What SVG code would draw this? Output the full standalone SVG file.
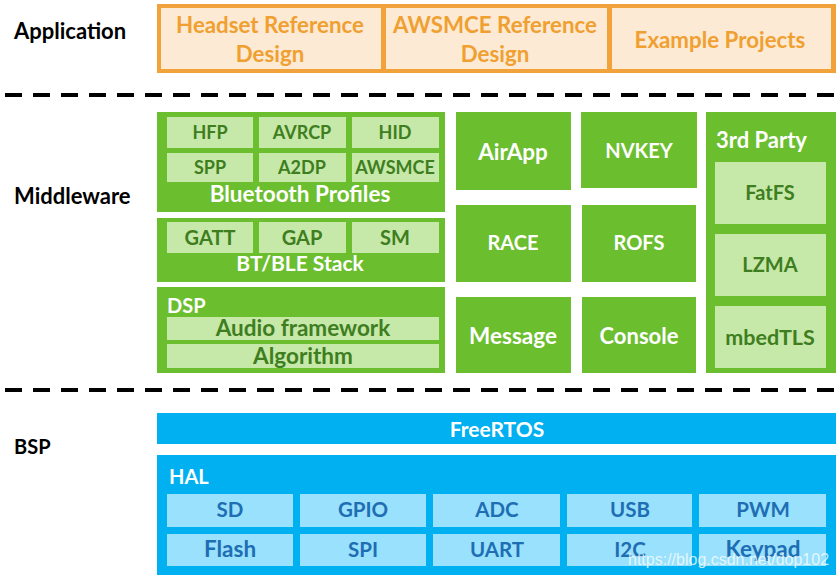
<svg xmlns="http://www.w3.org/2000/svg" width="836" height="578" viewBox="0 0 836 578">
<style>
text{font-family:Lato,"Open Sans","Liberation Sans",sans-serif;font-weight:bold;text-anchor:middle}
.lbl{fill:#000;font-size:22px;text-anchor:start}
.ao{fill:#F2A23A}
.ac{fill:#FDEAD4}
.at{fill:#F0A030;font-size:22.3px}
.g{fill:#6BBE2E}
.lg{fill:#C6E8A8}
.gt{fill:#3E7E1F;font-size:18px}
.gtl{fill:#3E7E1F;font-size:20px}
.wt{fill:#fff;font-size:20px}
.b{fill:#00B0F0}
.lb{fill:#99E1FC}
.bt{fill:#1E6EB4;font-size:20.5px}
.big{font-size:22.5px}
.dash{stroke:#000;stroke-width:4;stroke-dasharray:17 11;fill:none}
</style>
<rect width="836" height="578" fill="#fff"/>
<g id="labels">
<text class="lbl" x="14" y="39">Application</text>
<text class="lbl" x="14" y="204">Middleware</text>
<text class="lbl" x="14" y="454" style="font-size:20px">BSP</text>
</g>
<g id="separators">
<line class="dash" x1="5" y1="95" x2="836" y2="95"/>
<line class="dash" x1="5" y1="390" x2="836" y2="390"/>
</g>
<g id="application">
<rect class="ao" x="157" y="4" width="679" height="69"/>
<g id="headset"><rect class="ac" x="161" y="8" width="220" height="61"/><text class="at" x="270" y="33">Headset Reference</text><text class="at" x="270" y="62">Design</text></g>
<g id="awsmce-ref"><rect class="ac" x="386" y="8" width="221" height="61"/><text class="at" x="495" y="33">AWSMCE Reference</text><text class="at" x="495" y="62">Design</text></g>
<g id="examples"><rect class="ac" x="612" y="8" width="219" height="61"/><text class="at" x="720" y="48">Example Projects</text></g>
</g>
<g id="bt-profiles">
<rect class="g" x="157" y="112" width="288" height="100"/>
<rect class="lg" x="167" y="117" width="86" height="31"/><text class="gt" x="210" y="139">HFP</text>
<rect class="lg" x="259" y="117" width="87" height="31"/><text class="gt" x="302" y="139">AVRCP</text>
<rect class="lg" x="352" y="117" width="87" height="31"/><text class="gt" x="395" y="139">HID</text>
<rect class="lg" x="167" y="153" width="86" height="29"/><text class="gt" x="210" y="174">SPP</text>
<rect class="lg" x="259" y="153" width="87" height="29"/><text class="gt" x="302" y="174">A2DP</text>
<rect class="lg" x="352" y="153" width="87" height="29"/><text class="gt" x="395" y="174">AWSMCE</text>
<text class="wt big" x="300" y="202">Bluetooth Profiles</text>
</g>
<g id="bt-stack">
<rect class="g" x="157" y="218" width="288" height="64"/>
<rect class="lg" x="167" y="222" width="86" height="31"/><text class="gtl" x="210" y="245">GATT</text>
<rect class="lg" x="259" y="222" width="87" height="31"/><text class="gtl" x="302" y="245">GAP</text>
<rect class="lg" x="352" y="222" width="87" height="31"/><text class="gtl" x="395" y="245">SM</text>
<text class="wt" x="300" y="271" style="font-size:21px">BT/BLE Stack</text>
</g>
<g id="dsp">
<rect class="g" x="157" y="287" width="288" height="86"/>
<text class="wt" x="167" y="313" style="text-anchor:start">DSP</text>
<rect class="lg" x="167" y="317" width="272" height="23"/><text class="gtl big" x="303" y="336">Audio framework</text>
<rect class="lg" x="167" y="344" width="272" height="24"/><text class="gtl big" x="303" y="364">Algorithm</text>
</g>
<g id="airapp"><rect class="g" x="456" y="112" width="115" height="78"/><text class="wt big" x="513" y="160">AirApp</text></g>
<g id="nvkey"><rect class="g" x="581" y="112" width="116" height="76"/><text class="wt" x="639" y="158">NVKEY</text></g>
<g id="race"><rect class="g" x="456" y="205" width="115" height="77"/><text class="wt" x="513" y="250">RACE</text></g>
<g id="rofs"><rect class="g" x="582" y="205" width="114" height="77"/><text class="wt" x="639" y="250">ROFS</text></g>
<g id="message"><rect class="g" x="456" y="297" width="115" height="76"/><text class="wt big" x="513" y="344">Message</text></g>
<g id="console"><rect class="g" x="582" y="297" width="114" height="76"/><text class="wt" x="639" y="344" style="font-size:22px">Console</text></g>
<g id="third-party">
<rect class="g" x="706" y="112" width="130" height="261"/>
<text class="wt" x="716" y="148" style="text-anchor:start;font-size:22px">3rd Party</text>
<rect class="lg" x="715" y="162" width="111" height="62"/><text class="gtl" x="770" y="200">FatFS</text>
<rect class="lg" x="715" y="234" width="111" height="62"/><text class="gtl" x="770" y="272">LZMA</text>
<rect class="lg" x="715" y="306" width="111" height="62"/><text class="gtl" x="770" y="345" style="font-size:21.5px">mbedTLS</text>
</g>
<g id="freertos"><rect class="b" x="157" y="413" width="679" height="31"/><text class="wt" x="497" y="437" style="font-size:21px">FreeRTOS</text></g>
<g id="hal">
<rect class="b" x="157" y="455" width="679" height="120"/>
<text class="wt" x="169" y="484" style="text-anchor:start">HAL</text>
<rect class="lb" x="167" y="494" width="126" height="33"/><text class="bt" x="230" y="517">SD</text>
<rect class="lb" x="300" y="494" width="126" height="33"/><text class="bt" x="363" y="517">GPIO</text>
<rect class="lb" x="433" y="494" width="127" height="33"/><text class="bt" x="497" y="517">ADC</text>
<rect class="lb" x="567" y="494" width="125" height="33"/><text class="bt" x="630" y="517">USB</text>
<rect class="lb" x="699" y="494" width="127" height="33"/><text class="bt" x="763" y="517">PWM</text>
<rect class="lb" x="167" y="534" width="126" height="32"/><text class="bt big" x="230" y="557">Flash</text>
<rect class="lb" x="300" y="534" width="126" height="32"/><text class="bt" x="363" y="557">SPI</text>
<rect class="lb" x="433" y="534" width="127" height="32"/><text class="bt" x="497" y="557">UART</text>
<rect class="lb" x="567" y="534" width="125" height="32"/><text class="bt" x="630" y="557">I2C</text>
<rect class="lb" x="699" y="534" width="127" height="32"/><text class="bt big" x="763" y="557">Keypad</text>
</g>
<text x="628" y="565" style="text-anchor:start;font-family:'Liberation Sans',sans-serif;font-weight:normal;font-size:16px;fill:#ffffff;fill-opacity:0.75">https://blog.csdn.net/dop102</text>
</svg>
